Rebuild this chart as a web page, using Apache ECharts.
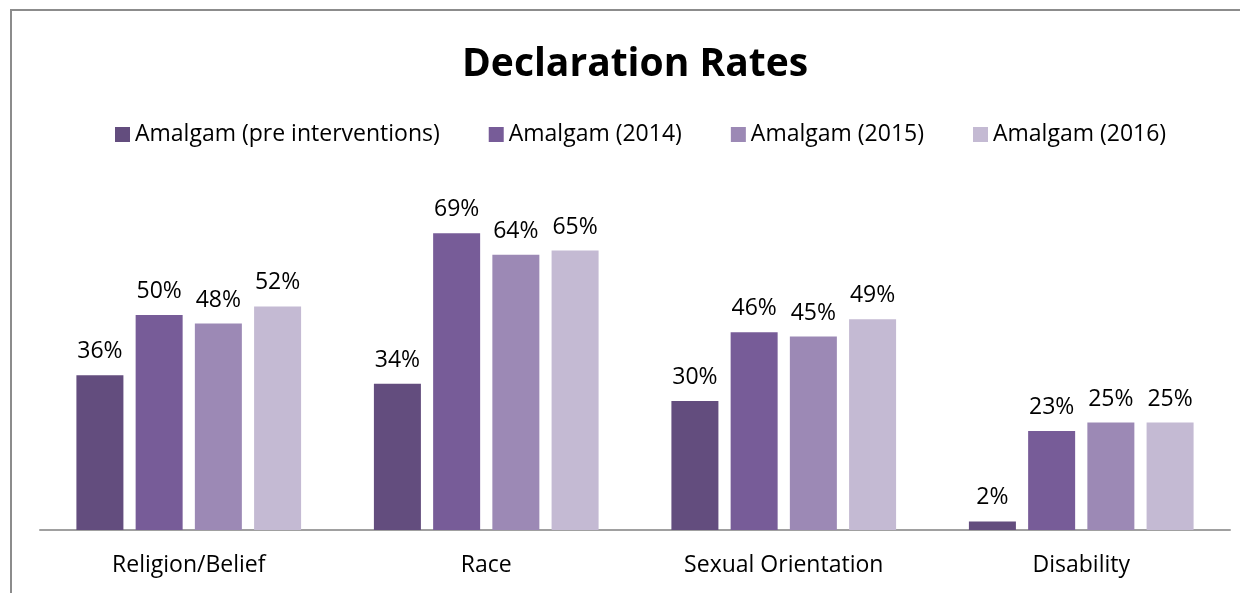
<!DOCTYPE html>
<html>
<head>
<meta charset="utf-8">
<script src="https://cdn.jsdelivr.net/npm/echarts@6/dist/echarts.min.js"></script>
<style>
  html, body { margin: 0; padding: 0; background: #fff; }
  #chart { width: 1240px; height: 593px; }
</style>
</head>
<body>
<div id="chart"></div>
<script>
// categories and values (percent)
const categories = ['Religion/Belief', 'Race', 'Sexual Orientation', 'Disability']
const seriesNames = ['Amalgam (pre interventions)', 'Amalgam (2014)', 'Amalgam (2015)', 'Amalgam (2016)']
const preInterventions = [36, 34, 30, 2]
const y2014 = [50, 69, 46, 23]
const y2015 = [48, 64, 45, 25]
const y2016 = [52, 65, 49, 25]
const colors = ['#634d7e', '#775c98', '#9c89b5', '#c4bad3']

const font = '"Open Sans", "Noto Sans", sans-serif'
const chart = echarts.init(document.getElementById('chart'))

const allData = [preInterventions, y2014, y2015, y2016]

const option = {
  animation: false,
  title: {
    text: 'Declaration Rates',
    left: 457,
    top: 40,
    textStyle: { fontFamily: font, fontSize: 39, fontWeight: 'bold', color: '#000' }
  },
  legend: {
    data: seriesNames,
    left: 110,
    top: 118,
    icon: 'rect',
    itemWidth: 15,
    itemHeight: 15,
    itemGap: 49,
    textStyle: { fontFamily: font, fontSize: 23, color: '#000' }
  },
  graphic: [{
    type: 'rect',
    shape: { x: 11, y: 10, width: 1260, height: 620 },
    style: { fill: 'none', stroke: '#8c8c8c', lineWidth: 2 },
    silent: true
  }],
  grid: { left: 40, right: 10, top: 100, bottom: 63 },
  xAxis: {
    type: 'category',
    data: categories,
    axisLine: { lineStyle: { color: '#a0a0a0', width: 2 } },
    axisTick: { show: false },
    axisLabel: { fontFamily: font, fontSize: 23, color: '#000', margin: 24 }
  },
  yAxis: {
    type: 'value',
    min: 0,
    max: 100,
    show: false
  },
  series: seriesNames.map((name, i) => ({
    name: name,
    type: 'bar',
    data: allData[i],
    barWidth: '15.8%',
    barGap: '26%',
    itemStyle: { color: colors[i] },
    label: {
      show: true,
      position: 'top',
      distance: 12,
      formatter: '{c}%',
      fontFamily: font,
      fontSize: 23,
      color: '#000'
    }
  }))
}
chart.setOption(option)
</script>
</body>
</html>
